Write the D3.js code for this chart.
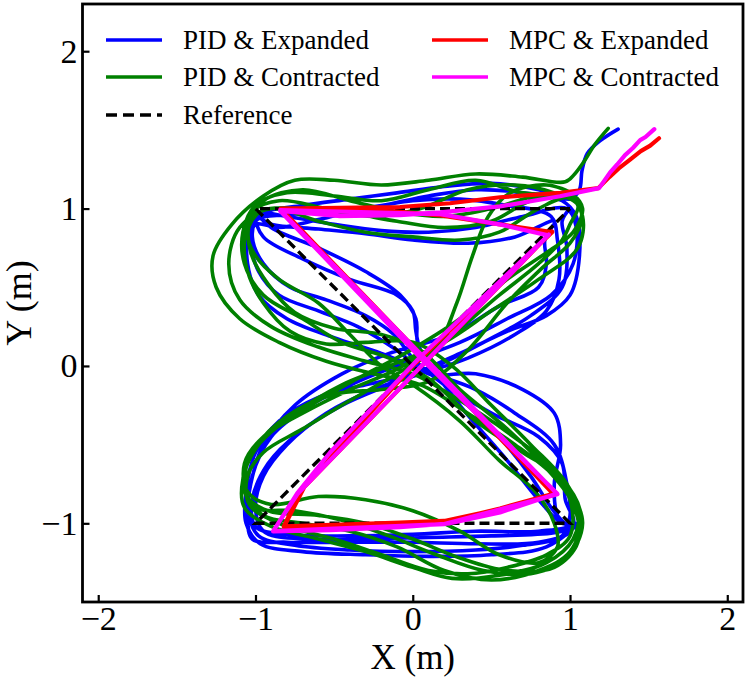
<!DOCTYPE html>
<html>
<head>
<meta charset="utf-8">
<script src="https://cdn.jsdelivr.net/npm/d3@7"></script>
<style>
body { margin: 0; background: #fff; }
text { font-family: "Liberation Serif", "Times New Roman", serif; fill: #000; }
</style>
</head>
<body>
<svg id="chart" width="748" height="679"></svg>
<script>
// ticks and legend entries
var xTicks = [-2, -1, 0, 1, 2];
var yTicks = [-1, 0, 1, 2];
var seriesNames = ["PID & Expanded", "PID & Contracted", "Reference", "MPC & Expanded", "MPC & Contracted"];
var seriesColors = ["#0000ff", "#008000", "#000000", "#ff0000", "#ff00ff"];

// reference hourglass
var reference = [[1, 1], [-1, 1], [1, -1], [-1, -1], [1, 1]];

// PID runs (x, y in metres)
var pidExpanded = [
  [1.306, 1.505], [1.19, 1.43], [1.11, 1.35], [1.076, 1.24], [1.06, 1.12], [1.0, 1.06],
  [0.8, 1.12], [0.5, 1.16], [0.2, 1.14], [-0.1, 1.1], [-0.4, 1.06], [-0.7, 1.02], [-0.95, 0.97],
  [-1.04, 0.85], [-1.05, 0.65], [-0.98, 0.45], [-0.8, 0.3], [-0.5, 0.18], [-0.2, 0.08], [0.1, -0.04],
  [0.4, -0.15], [0.65, -0.3], [0.9, -0.5], [0.98, -0.75], [1.0, -0.95], [0.95, -1.08],
  [0.7, -1.14], [0.4, -1.17], [0.0, -1.18], [-0.4, -1.17], [-0.75, -1.14], [-0.98, -1.08],
  [-1.04, -0.95], [-1.02, -0.7], [-0.9, -0.45], [-0.65, -0.25], [-0.35, -0.1], [-0.05, 0.02],
  [0.3, 0.15], [0.6, 0.3], [0.88, 0.45], [1.02, 0.65], [1.04, 0.88], [0.98, 1.0],
  [0.7, 0.95], [0.4, 0.88], [0.1, 0.85], [-0.2, 0.86], [-0.5, 0.9], [-0.8, 0.95], [-0.98, 0.97],
  [-0.9, 0.88], [-0.6, 0.75], [-0.3, 0.6], [-0.08, 0.45], [0.02, 0.3], [0.03, 0.15], [0.1, 0.0],
  [0.3, -0.2], [0.55, -0.45], [0.75, -0.7], [0.88, -0.9], [0.97, -1.0], [1.04, -1.02],
  [0.9, -1.06], [0.5, -1.08], [0.1, -1.09], [-0.3, -1.1], [-0.7, -1.1], [-0.95, -1.05],
  [-1.0, -0.9], [-0.95, -0.7], [-0.8, -0.5], [-0.55, -0.3], [-0.25, -0.15], [0.05, -0.05],
  [0.35, 0.05], [0.65, 0.2], [0.85, 0.35], [0.93, 0.55], [0.92, 0.8], [0.88, 0.95],
  [0.6, 1.02], [0.3, 1.06], [0.0, 1.05], [-0.3, 1.0], [-0.6, 0.93], [-0.85, 0.88], [-1.0, 0.9],
  [-1.03, 0.8], [-0.98, 0.6], [-0.85, 0.45], [-0.6, 0.35], [-0.35, 0.25], [-0.1, 0.1], [0.1, -0.05],
  [0.4, -0.05], [0.7, -0.15], [0.9, -0.3], [0.94, -0.5], [0.9, -0.75], [0.92, -0.95], [1.0, -1.05],
  [0.8, -1.12], [0.4, -1.13], [0.0, -1.12], [-0.4, -1.12], [-0.8, -1.12], [-1.02, -1.1],
  [-1.05, -0.95], [-1.03, -0.75], [-0.95, -0.5], [-0.75, -0.25], [-0.45, -0.05], [-0.15, 0.08],
  [0.25, 0.2], [0.55, 0.38], [0.8, 0.5], [0.85, 0.65], [0.84, 0.8], [0.9, 0.92],
  [0.65, 0.82], [0.35, 0.78], [0.0, 0.8], [-0.3, 0.84], [-0.6, 0.87], [-0.9, 0.9], [-1.0, 0.95],
  [-0.95, 0.82], [-0.7, 0.68], [-0.4, 0.55], [-0.1, 0.45], [0.0, 0.35], [0.02, 0.22], [0.05, 0.1],
  [0.3, -0.25], [0.6, -0.6], [0.8, -0.85], [0.95, -1.0], [1.04, -1.0],
  [0.85, -1.15], [0.5, -1.2], [0.1, -1.21], [-0.3, -1.2], [-0.7, -1.18], [-0.97, -1.13],
  [-1.06, -1.0], [-1.06, -0.8], [-1.0, -0.55], [-0.85, -0.35], [-0.6, -0.2], [-0.3, -0.12], [0.0, -0.05],
  [0.3, 0.08], [0.6, 0.22], [0.85, 0.32], [1.0, 0.45], [1.06, 0.7], [1.04, 0.95], [0.95, 1.05],
  [0.7, 1.1], [0.4, 1.12], [0.1, 1.08], [-0.2, 1.02], [-0.5, 0.98], [-0.8, 0.96], [-0.99, 0.93],
  [-1.02, 0.82], [-0.95, 0.65], [-0.78, 0.5], [-0.55, 0.42], [-0.3, 0.32], [-0.12, 0.2], [0.0, 0.05],
  [0.2, -0.12], [0.5, -0.3], [0.8, -0.45], [0.95, -0.62], [0.97, -0.85], [1.02, -1.0],
  [0.8, -1.05], [0.4, -1.05], [0.0, -1.07], [-0.4, -1.08], [-0.8, -1.07], [-1.0, -1.02],
  [-1.02, -0.85], [-0.92, -0.62], [-0.72, -0.42], [-0.45, -0.25], [-0.15, -0.12], [0.15, 0.0],
  [0.45, 0.15], [0.75, 0.32], [0.95, 0.5], [0.98, 0.75], [0.95, 0.92], [1.0, 1.0]
];

var pidContracted = [
  [1.243, 1.51], [1.16, 1.41], [1.09, 1.3], [1.03, 1.22], [0.97, 1.17],
  [0.7, 1.2], [0.4, 1.22], [0.1, 1.18], [-0.2, 1.15], [-0.5, 1.18], [-0.75, 1.18], [-0.95, 1.08],
  [-1.15, 0.9], [-1.27, 0.7], [-1.25, 0.5], [-1.1, 0.3], [-0.85, 0.15], [-0.55, 0.03], [-0.25, -0.05], [0.05, -0.12],
  [0.35, -0.3], [0.65, -0.5], [0.9, -0.7], [1.05, -0.9], [1.02, -1.1], [0.85, -1.25],
  [0.55, -1.33], [0.25, -1.35], [0.0, -1.28], [-0.3, -1.18], [-0.6, -1.1], [-0.9, -1.02],
  [-1.07, -0.9], [-1.08, -0.72], [-0.98, -0.5], [-0.75, -0.3], [-0.45, -0.12], [-0.15, 0.0],
  [0.2, 0.15], [0.5, 0.35], [0.8, 0.55], [1.05, 0.75], [1.08, 0.95], [1.0, 1.07],
  [0.8, 1.0], [0.55, 0.85], [0.3, 0.8], [0.0, 0.82], [-0.3, 0.85], [-0.6, 0.92], [-0.9, 1.0],
  [-1.1, 0.88], [-1.17, 0.65], [-1.1, 0.42], [-0.9, 0.25], [-0.6, 0.12], [-0.3, 0.03], [0.0, -0.05],
  [0.3, -0.22], [0.6, -0.42], [0.85, -0.62], [1.0, -0.85], [1.0, -1.08], [0.85, -1.2],
  [0.6, -1.28], [0.35, -1.32], [0.1, -1.3], [-0.2, -1.2], [-0.5, -1.1], [-0.85, -1.0],
  [-1.04, -0.88], [-1.05, -0.7], [-0.95, -0.55], [-0.7, -0.4], [-0.4, -0.22], [-0.1, -0.05],
  [0.15, 0.12], [0.28, 0.4], [0.38, 0.7], [0.48, 0.95], [0.62, 1.1], [0.85, 1.15], [1.0, 1.1],
  [0.7, 1.1], [0.4, 1.18], [0.1, 1.12], [-0.2, 1.05], [-0.5, 1.08], [-0.8, 1.1], [-1.0, 1.02],
  [-1.08, 0.85], [-1.07, 0.65], [-0.95, 0.45], [-0.7, 0.3], [-0.45, 0.15], [-0.15, 0.05], [0.1, -0.08],
  [0.4, -0.35], [0.7, -0.55], [0.95, -0.72], [1.07, -0.95], [1.0, -1.18], [0.8, -1.3],
  [0.5, -1.36], [0.2, -1.3], [-0.1, -1.15], [-0.4, -1.05], [-0.7, -1.0], [-0.95, -0.95],
  [-1.07, -0.8], [-1.05, -0.6], [-0.9, -0.42], [-0.65, -0.25], [-0.35, -0.08], [-0.05, 0.08],
  [0.3, 0.3], [0.6, 0.55], [0.85, 0.72], [1.02, 0.85], [1.08, 1.0], [1.02, 1.08],
  [0.75, 1.05], [0.5, 0.92], [0.2, 0.88], [-0.1, 0.92], [-0.4, 0.97], [-0.7, 1.0], [-0.97, 0.98],
  [-1.05, 0.85], [-1.0, 0.7], [-0.85, 0.55], [-0.6, 0.4], [-0.4, 0.2], [-0.2, 0.0], [0.0, -0.12],
  [0.3, -0.35], [0.55, -0.6], [0.78, -0.8], [0.9, -1.0], [0.92, -1.15], [0.8, -1.25],
  [0.55, -1.2], [0.3, -1.05], [0.0, -0.92], [-0.3, -0.85], [-0.6, -0.83], [-0.9, -0.88],
  [-1.05, -0.8], [-1.07, -0.62], [-0.95, -0.45], [-0.7, -0.3], [-0.4, -0.15], [-0.1, -0.02],
  [0.25, 0.2], [0.55, 0.45], [0.8, 0.65], [0.95, 0.8], [1.0, 0.9], [1.05, 1.02], [0.9, 1.1],
  [0.65, 1.15], [0.35, 1.12], [0.05, 1.0], [-0.25, 0.95], [-0.55, 1.0], [-0.85, 1.05], [-1.02, 0.98],
  [-1.07, 0.8], [-1.05, 0.6], [-0.95, 0.4], [-0.78, 0.22], [-0.55, 0.14], [-0.3, 0.15], [0.0, 0.15],
  [0.25, 0.0], [0.5, -0.25], [0.75, -0.5], [0.98, -0.75], [1.08, -1.0], [0.98, -1.22], [0.75, -1.32],
  [0.45, -1.3], [0.15, -1.2], [-0.15, -1.08], [-0.45, -0.98], [-0.75, -0.92], [-1.0, -0.9],
  [-1.08, -0.75], [-1.0, -0.52], [-0.8, -0.32], [-0.5, -0.18], [-0.2, -0.15], [0.1, -0.1],
  [0.35, 0.1], [0.6, 0.4], [0.82, 0.62], [1.0, 0.78], [1.07, 0.92], [1.05, 1.05],
  [0.8, 1.08], [0.5, 1.0], [0.2, 0.95], [-0.1, 0.98], [-0.4, 1.05], [-0.7, 1.12], [-0.95, 1.05],
  [-1.04, 0.9], [-1.03, 0.72], [-0.92, 0.52], [-0.75, 0.34], [-0.5, 0.24], [-0.2, 0.2], [0.05, 0.1],
  [0.3, -0.15], [0.6, -0.4], [0.85, -0.65], [1.02, -0.88], [1.05, -1.12], [0.9, -1.28],
  [0.6, -1.3], [0.3, -1.22], [0.0, -1.1], [-0.3, -1.0], [-0.6, -0.95], [-0.92, -0.92],
  [-1.06, -0.82], [-1.06, -0.65]
];

// MPC runs
var mpcExpanded = [
  [1.566, 1.447], [1.51, 1.40], [1.45, 1.365], [1.38, 1.31], [1.31, 1.255], [1.25, 1.2], [1.18, 1.13],
  [0.94, 1.10], [0.555, 1.072], [0.237, 1.034], [-0.081, 1.01], [-0.46, 1.005], [-0.84, 1.0],
  [0.9, -0.81],
  [0.555, -0.906], [0.237, -0.982], [-0.081, -0.995], [-0.46, -1.008], [-0.82, -1.02],
  [-0.70, -0.77], [0.0, 0.0], [0.886, 0.85],
  [0.555, 0.90], [0.176, 0.957], [-0.21, 0.99], [-0.84, 1.0],
  [0.9, -0.82],
  [0.55, -0.91], [0.2, -0.985], [-0.82, -1.025],
  [-0.69, -0.77], [0.886, 0.855]
];

var mpcContracted = [
  [1.536, 1.505], [1.48, 1.455], [1.446, 1.435], [1.40, 1.385], [1.35, 1.34], [1.30, 1.28], [1.255, 1.23], [1.185, 1.13],
  [0.936, 1.078], [0.555, 1.014], [0.176, 0.976], [-0.081, 0.958], [-0.462, 0.952], [-0.843, 0.985],
  [0.05, 0.05], [0.918, -0.81],
  [0.555, -0.931], [0.237, -1.0], [-0.081, -1.025], [-0.526, -1.044], [-0.888, -1.051],
  [-0.735, -0.81], [-0.526, -0.55], [0.05, 0.06], [0.862, 0.83],
  [0.55, 0.9], [0.176, 0.965], [-0.843, 0.99],
  [0.92, -0.815], [0.2, -1.005], [-0.888, -1.05],
  [-0.73, -0.81], [0.865, 0.835]
];

var width = 748, height = 679;
var margin = {left: 82.5, right: 5, top: 4, bottom: 77};
var serif = "'Liberation Serif', 'Times New Roman', serif";

var chart = d3.select("#chart");

var x = d3.scaleLinear().domain([-2.1, 2.1]).range([margin.left, width - margin.right]);
var y = d3.scaleLinear().domain([-1.5, 2.3]).range([height - margin.bottom, margin.top]);

chart.append("defs").append("clipPath").attr("id", "plot-clip")
  .append("rect")
  .attr("x", x(-2.1)).attr("y", y(2.3))
  .attr("width", x(2.1) - x(-2.1)).attr("height", y(-1.5) - y(2.3));

var smooth = d3.line()
  .x(function(d) { return x(d[0]); })
  .y(function(d) { return y(d[1]); })
  .curve(d3.curveCatmullRom.alpha(0.5));

var straight = d3.line()
  .x(function(d) { return x(d[0]); })
  .y(function(d) { return y(d[1]); });

var plot = chart.append("g").attr("clip-path", "url(#plot-clip)");

plot.append("path").datum(pidExpanded)
  .attr("d", smooth).attr("fill", "none")
  .attr("stroke", seriesColors[0]).attr("stroke-width", 3.6)
  .attr("stroke-linejoin", "round").attr("stroke-linecap", "round");

plot.append("path").datum(pidContracted)
  .attr("d", smooth).attr("fill", "none")
  .attr("stroke", seriesColors[1]).attr("stroke-width", 3.6)
  .attr("stroke-linejoin", "round").attr("stroke-linecap", "round");

plot.append("path").datum(reference)
  .attr("d", straight).attr("fill", "none")
  .attr("stroke", seriesColors[2]).attr("stroke-width", 3.4)
  .attr("stroke-dasharray", "10,5");

plot.append("path").datum(mpcExpanded)
  .attr("d", straight).attr("fill", "none")
  .attr("stroke", seriesColors[3]).attr("stroke-width", 4.2)
  .attr("stroke-linejoin", "round").attr("stroke-linecap", "round");

plot.append("path").datum(mpcContracted)
  .attr("d", straight).attr("fill", "none")
  .attr("stroke", seriesColors[4]).attr("stroke-width", 4.2)
  .attr("stroke-linejoin", "round").attr("stroke-linecap", "round");

// axes, ticks pointing inwards
function fmt(d) { return d < 0 ? "\u2212" + Math.abs(d) : d; }

var xAxis = chart.append("g")
  .attr("transform", "translate(0," + y(-1.5) + ")")
  .call(d3.axisBottom(x).tickValues(xTicks).tickSizeInner(-7).tickSizeOuter(0).tickPadding(4).tickFormat(fmt));

var yAxis = chart.append("g")
  .attr("transform", "translate(" + x(-2.1) + ",0)")
  .call(d3.axisLeft(y).tickValues(yTicks).tickSizeInner(-7).tickSizeOuter(0).tickPadding(5).tickFormat(fmt));

[xAxis, yAxis].forEach(function(a) {
  a.attr("font-family", serif).attr("font-size", 34);
  a.select(".domain").remove();
  a.selectAll(".tick line").attr("stroke", "#000").attr("stroke-width", 2.2);
  a.selectAll(".tick text")
    .style("font-family", serif)
    .style("font-size", "34px").attr("fill", "#000");
});
xAxis.selectAll(".tick text").attr("dy", "0.71em");

// frame
chart.append("rect")
  .attr("x", x(-2.1)).attr("y", y(2.3))
  .attr("width", x(2.1) - x(-2.1)).attr("height", y(-1.5) - y(2.3))
  .attr("fill", "none").attr("stroke", "#000").attr("stroke-width", 2.8);

// axis labels
chart.append("text")
  .attr("x", (x(-2.1) + x(2.1)) / 2).attr("y", 669)
  .attr("text-anchor", "middle").style("font-size", "35px")
  .text("X (m)");

chart.append("text")
  .attr("transform", "translate(31," + (y(2.3) + y(-1.5)) / 2 + ") rotate(-90)")
  .attr("text-anchor", "middle").style("font-size", "36px")
  .text("Y (m)");

// legend, two columns filled column-first
var legendPos = [[106, 40], [106, 77], [106, 115], [432, 40], [432, 77]];
var legend = chart.append("g").selectAll("g")
  .data(seriesNames)
  .enter().append("g")
  .attr("transform", function(d, i) { return "translate(" + legendPos[i][0] + "," + legendPos[i][1] + ")"; });

legend.append("line")
  .attr("x1", 0).attr("x2", 56).attr("y1", 0).attr("y2", 0)
  .attr("stroke", function(d, i) { return seriesColors[i]; })
  .attr("stroke-width", 3.6)
  .attr("stroke-dasharray", function(d, i) { return i === 2 ? "11,6" : null; });

legend.append("text")
  .attr("x", 77).attr("y", 0).attr("dy", "0.33em")
  .style("font-size", "27px")
  .text(function(d) { return d; });
</script>
</body>
</html>
